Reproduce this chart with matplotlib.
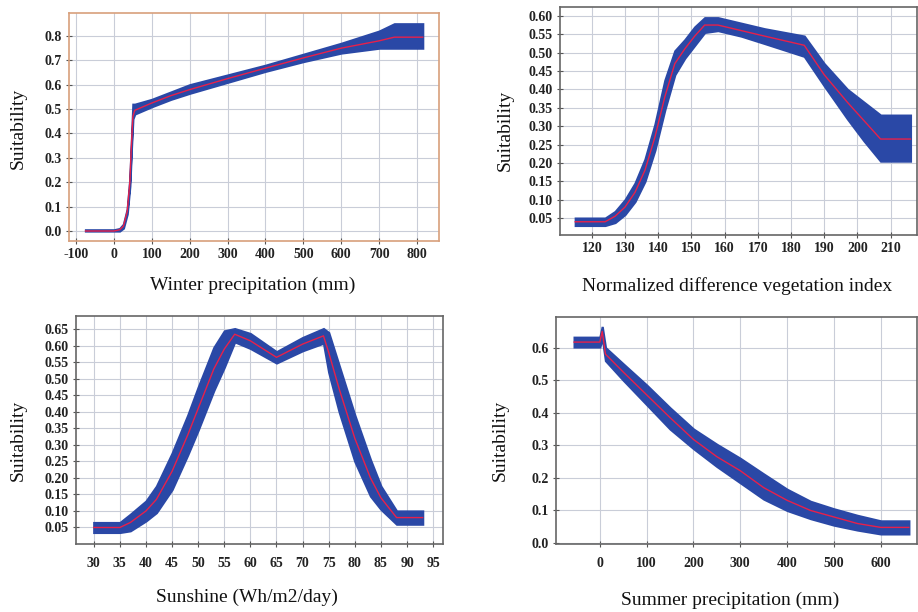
import matplotlib.pyplot as plt
import numpy as np

plt.rcParams['font.family'] = ['Liberation Serif', 'DejaVu Serif']
plt.rcParams['axes.unicode_minus'] = False

# Winter precipitation (mm)
win_x = [-75, 0, 15, 25, 35, 42, 46, 50, 55, 100, 150, 200, 300, 400, 500, 600, 700, 740, 815]
win_y = [0, 0, 0.005, 0.02, 0.08, 0.2, 0.35, 0.47, 0.495, 0.525, 0.555, 0.58, 0.625, 0.668, 0.71, 0.75, 0.78, 0.795, 0.795]
win_lo = [0, 0, 0, 0.012, 0.07, 0.185, 0.335, 0.46, 0.48, 0.51, 0.54, 0.565, 0.61, 0.655, 0.695, 0.73, 0.75, 0.75, 0.75]
win_hi = [0.005, 0.005, 0.01, 0.028, 0.09, 0.215, 0.365, 0.52, 0.52, 0.54, 0.57, 0.60, 0.64, 0.68, 0.725, 0.77, 0.82, 0.85, 0.85]

# Normalized difference vegetation index
ndvi_x = [115, 124, 127, 130, 133, 136, 139, 142, 145, 148, 151, 154, 158, 165, 172, 184, 190, 197, 202, 207, 216]
ndvi_y = [0.04, 0.04, 0.055, 0.08, 0.12, 0.18, 0.27, 0.38, 0.47, 0.51, 0.545, 0.575, 0.575, 0.56, 0.545, 0.52, 0.44, 0.365, 0.315, 0.265, 0.265]
ndvi_lo = [0.03, 0.03, 0.038, 0.06, 0.095, 0.15, 0.235, 0.345, 0.44, 0.485, 0.52, 0.555, 0.56, 0.545, 0.525, 0.49, 0.41, 0.32, 0.26, 0.205, 0.205]
ndvi_hi = [0.05, 0.05, 0.068, 0.10, 0.145, 0.21, 0.305, 0.425, 0.505, 0.535, 0.57, 0.595, 0.595, 0.58, 0.565, 0.545, 0.47, 0.40, 0.365, 0.33, 0.33]

# Sunshine (Wh/m2/day)
sun_x = [30, 35, 37, 40, 42, 45, 48, 50, 53, 55, 57, 60, 65, 70, 74, 75, 77, 80, 83, 85, 88, 93]
sun_y = [0.05, 0.05, 0.065, 0.10, 0.135, 0.22, 0.33, 0.41, 0.53, 0.59, 0.635, 0.615, 0.565, 0.605, 0.63, 0.58, 0.47, 0.32, 0.2, 0.14, 0.08, 0.08]
sun_lo = [0.035, 0.035, 0.04, 0.07, 0.095, 0.165, 0.27, 0.345, 0.465, 0.535, 0.612, 0.592, 0.548, 0.585, 0.608, 0.52, 0.40, 0.25, 0.145, 0.105, 0.06, 0.06]
sun_hi = [0.065, 0.065, 0.09, 0.13, 0.175, 0.275, 0.39, 0.475, 0.595, 0.645, 0.652, 0.637, 0.582, 0.625, 0.652, 0.64, 0.54, 0.39, 0.255, 0.175, 0.1, 0.1]

# Summer precipitation (mm)
sum_x = [-55, 0, 5, 12, 50, 100, 150, 200, 250, 300, 350, 400, 450, 500, 550, 600, 660]
sum_y = [0.617, 0.617, 0.65, 0.58, 0.525, 0.455, 0.385, 0.318, 0.265, 0.222, 0.17, 0.131, 0.10, 0.08, 0.06, 0.048, 0.048]
sum_lo = [0.602, 0.602, 0.63, 0.56, 0.50, 0.425, 0.35, 0.29, 0.235, 0.185, 0.135, 0.10, 0.075, 0.055, 0.04, 0.028, 0.028]
sum_hi = [0.632, 0.632, 0.665, 0.60, 0.55, 0.485, 0.415, 0.35, 0.303, 0.26, 0.212, 0.165, 0.128, 0.105, 0.085, 0.068, 0.068]

band_col = '#2a48a6'
line_col = '#e8204a'

fig = plt.figure(figsize=(9.18, 6.12), dpi=100)


def panel(rect, x, y, lo, hi, xlim, ylim, xticks, yticks, yfmt, spine_col, xpad):
    ax = fig.add_axes(rect)
    # band with a thin edge so steep parts keep some width
    ax.fill_between(x, lo, hi, facecolor=band_col, edgecolor=band_col,
                    lw=1.6, joinstyle='miter', zorder=2)
    ax.plot(x, y, color=line_col, lw=1.0, zorder=3)
    ax.set_xlim(*xlim)
    ax.set_ylim(*ylim)
    ax.set_xticks(xticks)
    ax.set_yticks(yticks)
    ax.set_yticklabels([yfmt.format(v) for v in yticks])
    ax.grid(True, color='#c9cdd8', lw=0.8, zorder=0)
    ax.set_axisbelow(True)
    for s in ax.spines.values():
        s.set_color(spine_col)
        s.set_linewidth(1.2)
    ax.tick_params(direction='inout', length=4, width=0.8, color='#555555',
                   labelsize=10, labelcolor='#222222', pad=3)
    ax.tick_params(axis='x', pad=xpad)
    for lab in ax.get_xticklabels() + ax.get_yticklabels():
        lab.set_fontweight('bold')
    return ax


panel([0.0752, 0.6062, 0.403, 0.3725], win_x, win_y, win_lo, win_hi,
      (-118.5, 858), (-0.041, 0.894), np.arange(-100, 801, 100),
      np.arange(0, 0.81, 0.1), '{:.1f}', '#d8a07c', 3)
panel([0.610, 0.616, 0.389, 0.3725], ndvi_x, ndvi_y, ndvi_lo, ndvi_hi,
      (110.4, 218), (0.004, 0.624), np.arange(120, 211, 10),
      np.arange(0.05, 0.601, 0.05), '{:.2f}', '#666666', 3)
panel([0.0828, 0.1111, 0.3998, 0.3725], sun_x, sun_y, sun_lo, sun_hi,
      (26.6, 96.9), (0.0, 0.69), np.arange(30, 96, 5),
      np.arange(0.05, 0.651, 0.05), '{:.2f}', '#666666', 7)
panel([0.6057, 0.1111, 0.393, 0.3709], sum_x, sum_y, sum_lo, sum_hi,
      (-93.6, 677), (-0.003, 0.694), np.arange(0, 601, 100),
      np.arange(0, 0.61, 0.1), '{:.1f}', '#666666', 7)

lab_kw = dict(fontsize=14, color='#111111', ha='center', va='center')
fig.text(18 / 918, 1 - 128 / 612, 'Suitability', rotation=90, **lab_kw)
fig.text(505 / 918, 1 - 130 / 612, 'Suitability', rotation=90, **lab_kw)
fig.text(18 / 918, 1 - 440 / 612, 'Suitability', rotation=90, **lab_kw)
fig.text(500 / 918, 1 - 440 / 612, 'Suitability', rotation=90, **lab_kw)
fig.text(253 / 918, 1 - 285 / 612, 'Winter precipitation (mm)', **lab_kw)
fig.text(737 / 918, 1 - 286 / 612, 'Normalized difference vegetation index', **lab_kw)
fig.text(247 / 918, 1 - 597 / 612, 'Sunshine (Wh/m2/day)', **lab_kw)
fig.text(730 / 918, 1 - 600 / 612, 'Summer precipitation (mm)', **lab_kw)

fig.savefig('out.png', dpi=100)
